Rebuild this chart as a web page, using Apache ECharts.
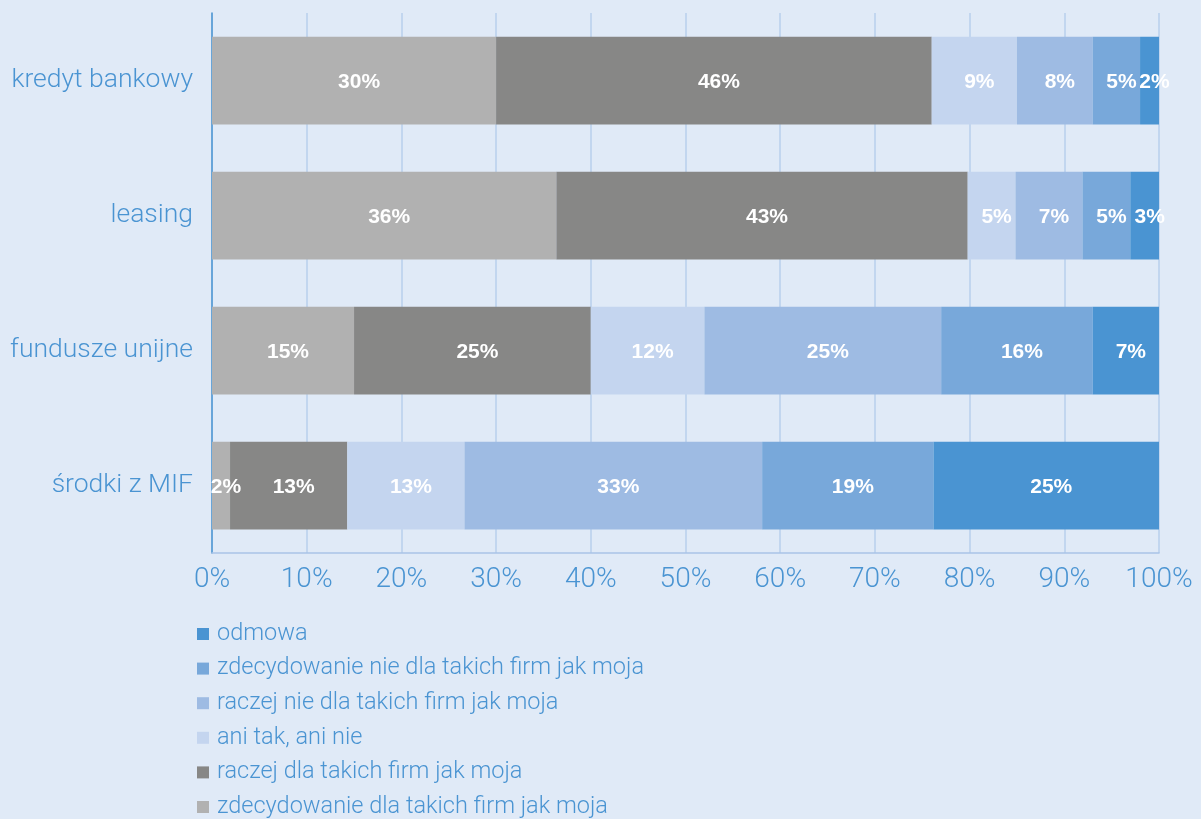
<!DOCTYPE html>
<html><head><meta charset="utf-8">
<script src="https://cdn.jsdelivr.net/npm/echarts@6/dist/echarts.min.js"></script>
<style>html,body{margin:0;padding:0;background:#e0eaf7;}#c{width:1201px;height:819px;}</style>
</head><body><div id="c"></div>
<script>
const categories = ['kredyt bankowy', 'leasing', 'fundusze unijne', 'środki z MIF'];
const seriesNames = ['zdecydowanie dla takich firm jak moja', 'raczej dla takich firm jak moja', 'ani tak, ani nie', 'raczej nie dla takich firm jak moja', 'zdecydowanie nie dla takich firm jak moja', 'odmowa'];
const zdecydowanieDla = [30, 36, 15, 2];
const raczejDla = [46, 43, 25, 13];
const aniTakAniNie = [9, 5, 12, 13];
const raczejNie = [8, 7, 25, 33];
const zdecydowanieNie = [5, 5, 16, 19];
const odmowa = [2, 3, 7, 25];
const xTicks = [0, 10, 20, 30, 40, 50, 60, 70, 80, 90, 100];
const colors = ['#b1b1b1', '#878786', '#c4d5ef', '#9ebbe3', '#78a8da', '#4a94d2'];

const raw = [zdecydowanieDla, raczejDla, aniTakAniNie, raczejNie, zdecydowanieNie, odmowa];
const totals = categories.map((c, i) => raw.reduce((s, arr) => s + arr[i], 0));

const chart = echarts.init(document.getElementById('c'));
const lightFont = 'Roboto, "Liberation Sans", sans-serif';
const boldFont = '"Liberation Sans", Arial, sans-serif';
chart.setOption({
  backgroundColor: '#e0eaf7',
  animation: false,
  textStyle: { fontFamily: lightFont },
  grid: { left: 212, right: 42, top: 13, bottom: 266, containLabel: false },
  xAxis: {
    type: 'value', min: xTicks[0], max: xTicks[xTicks.length - 1], interval: 10,
    axisLine: { show: true, lineStyle: { color: '#a9c4e8', width: 1.5 } },
    axisTick: { show: false },
    splitLine: { show: true, lineStyle: { color: '#b9cfec', width: 1.5 } },
    axisLabel: { formatter: '{value}%', color: '#4a94d2', fontSize: 28, fontWeight: 300, margin: 13, fontFamily: lightFont }
  },
  yAxis: {
    type: 'category', data: categories, inverse: true,
    axisLine: { show: true, lineStyle: { color: '#4a94d2', width: 1.5 } },
    axisTick: { show: false },
    axisLabel: { color: '#4a94d2', fontSize: 26.5, fontWeight: 300, margin: 19, padding: [9, 0, 0, 0], fontFamily: lightFont }
  },
  legend: {
    orient: 'vertical', left: 197, top: 622, height: 200, padding: 0,
    data: seriesNames.slice().reverse(),
    icon: 'rect', itemWidth: 12, itemHeight: 12, itemGap: 10.6,
    textStyle: { color: '#4a94d2', fontSize: 23.5, fontWeight: 300, lineHeight: 24, fontFamily: lightFont, padding: [0, 0, 0, 3] }
  },
  series: seriesNames.map((name, si) => ({
    name, type: 'bar', stack: 'total', barCategoryGap: '35%',
    itemStyle: { color: colors[si] },
    label: {
      show: true, position: 'inside', offset: [5, 2], color: '#ffffff', fontSize: 21, fontWeight: 'bold', fontFamily: boldFont,
      formatter: p => raw[si][p.dataIndex] + '%'
    },
    data: raw[si].map((v, i) => v / totals[i] * 100)
  }))
});
</script></body></html>
